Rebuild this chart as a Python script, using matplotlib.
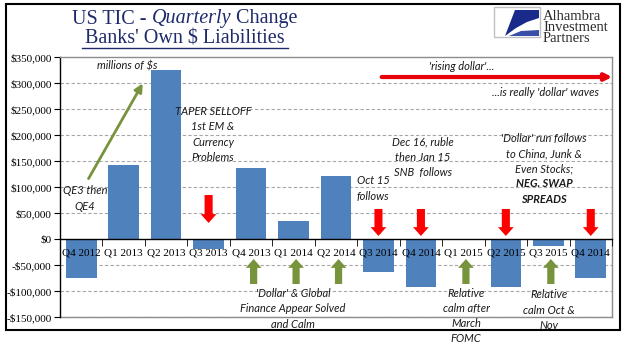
import matplotlib
matplotlib.use('Agg')
import matplotlib.pyplot as plt
from matplotlib.patches import Rectangle, Polygon
from matplotlib.lines import Line2D
from matplotlib.ticker import FuncFormatter

# data (millions of $)
quarters = ['Q4 2012', 'Q1 2013', 'Q2 2013', 'Q3 2013', 'Q4 2013', 'Q1 2014', 'Q2 2014',
            'Q3 2014', 'Q4 2014', 'Q1 2015', 'Q2 2015', 'Q3 2015', 'Q4 2014']
changes = [-75000, 143000, 325000, -20000, 137000, 34000, 121000,
           -63000, -92000, -2000, -92000, -13000, -75000]
yticks = [-150000, -100000, -50000, 0, 50000, 100000, 150000, 200000, 250000, 300000, 350000]
red_down = [3, 7, 8, 10, 12]
green_up = [4, 5, 6, 9, 11]

W, H = 641, 361
BLUE = '#4F81BD'
GREEN = '#77933C'
NAVY = '#1f2a6b'
SANS = ['Lato', 'DejaVu Sans']
SERIF = ['Liberation Serif', 'DejaVu Serif']


def fx(x):
    return x / W


def fy(y):
    return 1 - y / H


fig = plt.figure(figsize=(W / 100, H / 100), dpi=100)
ax = fig.add_axes([fx(60), fy(317), 552 / W, 260 / H])

ax.bar(range(len(changes)), changes, width=0.72, color=BLUE, zorder=2)
ax.set_xlim(-0.5, len(changes) - 0.5)
ax.set_ylim(-150000, 350000)
ax.set_yticks(yticks)
ax.yaxis.set_major_formatter(FuncFormatter(
    lambda v, p: ('-$' if v < 0 else '$') + f'{abs(int(v)):,}'))
for v in yticks:
    if v not in (0, 350000):
        ax.axhline(v, color='#a6a6a6', lw=0.8, ls=(0, (3, 2)), zorder=1)
ax.axhline(-150000, color='#8c8c8c', lw=1, clip_on=False, zorder=1)

ax.spines['bottom'].set_position(('data', 0))
ax.spines['bottom'].set_color('black')
ax.spines['left'].set_color('black')
ax.spines['top'].set_color('#8c8c8c')
ax.spines['right'].set_color('#8c8c8c')
for s in ax.spines.values():
    s.set_linewidth(1)
ax.spines['bottom'].set_zorder(3)
ax.xaxis.set_zorder(5)

ax.set_xticks(range(len(quarters)))
ax.set_xticklabels(quarters, fontfamily=SERIF, fontsize=8)
ax.set_xticks([i - 0.5 for i in range(len(quarters) + 1)], minor=True)
ax.tick_params(axis='x', which='major', length=0, pad=7)
ax.tick_params(axis='x', which='minor', length=5, direction='out')
ax.tick_params(axis='y', length=4, pad=2, labelsize=8)
for lab in ax.get_yticklabels():
    lab.set_fontfamily(SERIF)

# arrows
for i in red_down:
    top = 84600 if i == 3 else 57700
    tip = 30800 if i == 3 else 5800
    ax.arrow(i, top, 0, tip - top, width=0.19, head_width=0.37, head_length=17000,
             length_includes_head=True, color='#ff0000', lw=0, zorder=4)
for i in green_up:
    ax.arrow(i + 0.06, -86500, 0, 48000, width=0.17, head_width=0.37, head_length=17000,
             length_includes_head=True, color=GREEN, lw=0, zorder=4)
ax.annotate('', xy=(1.48, 303800), xytext=(0.14, 111500),
            arrowprops=dict(arrowstyle='-|>', color=GREEN, lw=2, mutation_scale=12))
ax.annotate('', xy=(12.57, 311500), xytext=(7.01, 311500), annotation_clip=False,
            arrowprops=dict(arrowstyle='-|>', color='#e8000b', lw=3, mutation_scale=10,
                            clip_on=False))

# annotations (pixel centre positions)
notes = [
    ('millions of $s', 127, 66, 'normal'),
    ('TAPER SELLOFF\n1st EM &\nCurrency\nProblems', 213, 134.5, 'normal'),
    ('QE3 then\nQE4', 85, 198.5, 'normal'),
    ("'rising dollar'...", 462, 67, 'normal'),
    ("...is really 'dollar' waves", 545, 92, 'normal'),
    ('Oct 15\nfollows', 373, 188.5, 'normal'),
    ('Dec 16, ruble\nthen Jan 15\nSNB  follows', 423, 157, 'normal'),
    ("'Dollar' run follows\nto China, Junk &\nEven Stocks;", 544, 153.5, 'normal'),
    ('NEG. SWAP\nSPREADS', 544, 191.5, 'bold'),
    ("'Dollar' & Global\nFinance Appear Solved\nand Calm", 293, 309, 'normal'),
    ('Relative\ncalm after\nMarch\nFOMC', 466, 316, 'normal'),
    ('Relative\ncalm Oct &\nNov', 549, 310, 'normal'),
]
for txt, x, y, wt in notes:
    fig.text(fx(x), fy(y), txt, ha='center', va='center', fontsize=8, style='italic',
             fontweight=wt, fontfamily=SANS, color='#1a1a1a', linespacing=1.45, zorder=6)

# title
t1 = fig.text(fx(72), fy(19), 'US TIC - ', fontsize=14.5, fontfamily=SERIF, color=NAVY, va='center')
t2 = fig.text(0, 0, 'Quarterly', fontsize=14.5, fontfamily=SERIF, color=NAVY, style='italic')
t3 = fig.text(0, 0, ' Change', fontsize=14.5, fontfamily=SERIF, color=NAVY)
fig.canvas.draw()
r = fig.canvas.get_renderer()
bb = t1.get_window_extent(r)
t2.set_position((bb.x1 / W, fy(19)))
t2.set_va('center')
bb2 = t2.get_window_extent(r)
t3.set_position((bb2.x1 / W, fy(19)))
t3.set_va('center')
fig.text(fx(185), fy(39), "Banks' Own $ Liabilities", ha='center', va='center',
         fontsize=14.5, fontfamily=SERIF, color=NAVY)
fig.add_artist(Line2D([fx(82), fx(288)], [fy(48), fy(48)], color=NAVY, lw=1))

# logo
fig.add_artist(Rectangle((fx(494), fy(37)), 46 / W, 30 / H, facecolor='white',
                         edgecolor='#c0c0c0', lw=1))
fig.add_artist(Polygon([(fx(515), fy(10)), (fx(539), fy(10)), (fx(539), fy(18)),
                        (fx(527), fy(22)), (fx(516), fy(28)), (fx(505), fy(36))],
                       closed=True, facecolor='#1a2a8a', edgecolor='none'))
fig.add_artist(Polygon([(fx(509), fy(36)), (fx(521), fy(31)), (fx(539), fy(30)),
                        (fx(539), fy(36))],
                       closed=True, facecolor='#3a4fa8', edgecolor='none'))
for k, word in enumerate(['Alhambra', 'Investment', 'Partners']):
    fig.text(fx(543), fy(16 + 11.5 * k), word, fontsize=10.5, fontfamily=SERIF,
             color='#2b2b2b', va='center')

# outer frame
fig.add_artist(Rectangle((fx(6), fy(330)), 614 / W, 326 / H, facecolor='none',
                         edgecolor='black', lw=1.5))

fig.savefig('out.png', dpi=100)
